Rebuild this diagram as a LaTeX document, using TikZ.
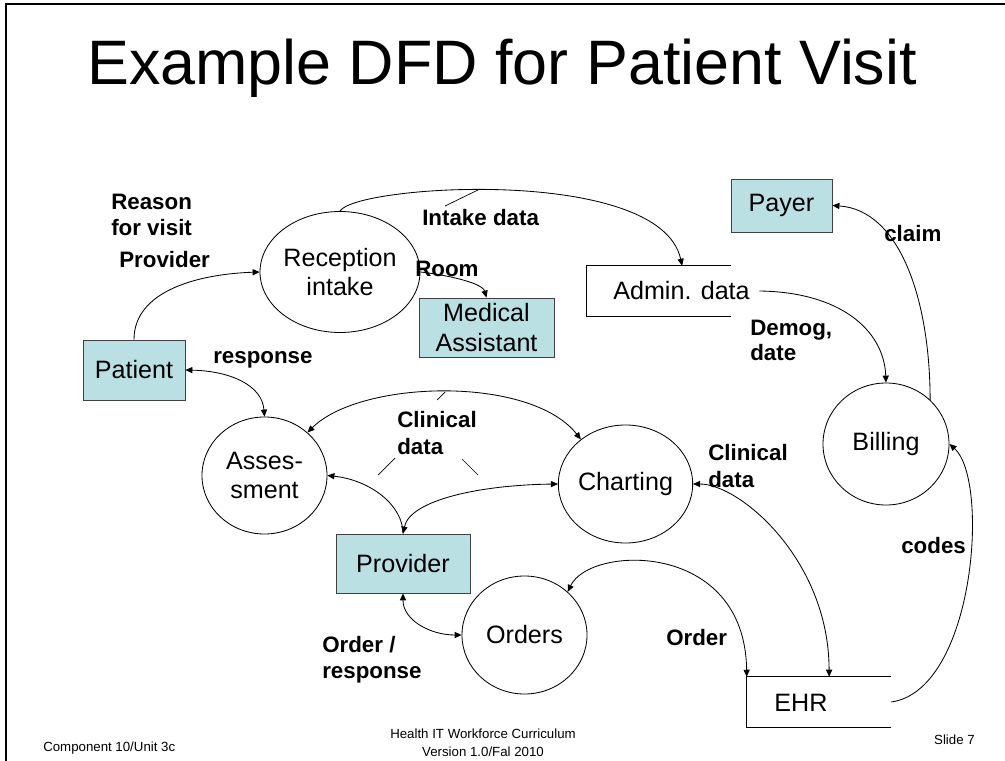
\documentclass[tikz,border=0pt]{standalone}
\usepackage{fontspec}
\setmainfont{Liberation Sans}
\usetikzlibrary{arrows.meta,fit,calc,shapes.geometric}
\newcommand\pxu{0.7164pt}
\definecolor{boxfill}{RGB}{187,224,227}
\begin{document}
\begin{tikzpicture}[x=\pxu,y=-\pxu,
  ent/.style={draw=black!75, fill=boxfill, line width=0.6pt, inner sep=0pt,
    font=\fontsize{18}{21}\selectfont, align=center},
  proc/.style={ellipse, draw, line width=0.6pt, inner sep=0pt,
    font=\fontsize{18}{21}\selectfont, align=center},
  lbl/.style={font=\bfseries\fontsize{16}{19}\selectfont, align=left, anchor=west, inner sep=0pt},
  store/.style={draw=none, inner sep=0pt},
  storeline/.style={line width=0.6pt},
  tip/.tip={Triangle[length=5pt,width=4.4pt]},
  flow/.style={line width=0.6pt, -tip},
  both/.style={line width=0.6pt, tip-tip},
  callout/.style={line width=0.5pt},
  foot/.style={font=\fontsize{9.5}{12}\selectfont, inner sep=0pt}]
\useasboundingbox (0,0) rectangle (1005,761);
% slide frame
\draw[line width=0.8pt] (6,761) -- (6,4) -- (1005,4);
% title
\node[font=\fontsize{45}{50}\selectfont] (title) at (502,68) {Example DFD for Patient Visit};
% entities and processes
\node[ent, minimum width=102*\pxu, minimum height=60*\pxu] (patient) at (134,370) {Patient};
\node[proc, minimum width=125*\pxu, minimum height=121*\pxu] (reception) at (340,272) {Reception\\intake};
\node[ent, minimum width=135*\pxu, minimum height=59*\pxu] (ma) at (486.5,327.5) {Medical\\Assistant};
\node[ent, minimum width=101*\pxu, minimum height=53*\pxu] (payer) at (781.5,205.5) {Payer};
\node[proc, minimum width=126*\pxu, minimum height=122*\pxu] (billing) at (886,444) {Billing};
\node[proc, minimum width=125*\pxu, minimum height=117*\pxu] (assess) at (264.5,475.5) {Asses-\\sment};
\node[proc, minimum width=125*\pxu, minimum height=118*\pxu] (charting) at (625.5,484) {Charting};
\node[ent, minimum width=134*\pxu, minimum height=59*\pxu] (provider) at (403,563.5) {Provider};
\node[proc, minimum width=125*\pxu, minimum height=118*\pxu] (orders) at (524.5,635) {Orders};
% data stores
\node[store, fit={(587,266) (731,316)}] (admin) {};
\draw[storeline] (admin.north east) -- (admin.north west) -- (admin.south west) -- (admin.south east);
\node[font=\fontsize{18}{21}\selectfont, inner sep=1pt] (admintxt) at (681.5,291) {Admin. data};
\node[store, fit={(747,677) (891,727)}] (ehr) {};
\draw[storeline] (ehr.north east) -- (ehr.north west) -- (ehr.south west) -- (ehr.south east);
\node[font=\fontsize{18}{21}\selectfont, inner sep=1pt] (ehrtxt) at (801,703) {EHR};
% flows
\draw[flow] (patient.north) .. controls (134,290) and (200,274) .. (reception.west);
\draw[flow] (reception.east) .. controls (440,274) and (482,282) .. (ma.north);
\draw[both] (patient.east) .. controls (230,371) and (262,385) .. (assess.north);
\draw[flow] (reception.north) .. controls (355,185) and (660,165) .. ($(admin.north west)!0.66!(admin.north east)$);
\draw[flow] ($(admintxt.east)+(8,0)$) .. controls (840,292) and (884,330) .. (billing.north);
\draw[flow] (billing.45) .. controls (930,300) and (900,210) .. (payer.east);
\draw[flow] (ehr.east) .. controls (975,690) and (990,480) .. (billing.east);
\draw[both] (assess.45) .. controls (360,380) and (530,375) .. (charting.135);
\draw[flow] (provider.north) .. controls (403,505) and (370,480) .. (assess.east);
\draw[both] (provider.north) .. controls (410,500) and (480,485) .. (charting.west);
\draw[both] (provider.south) .. controls (403,620) and (430,635) .. (orders.west);
\draw[both] (orders.45) .. controls (590,545) and (745,540) .. (ehr.north west);
\draw[both] (charting.east) .. controls (740,484) and (829,560) .. ($(ehr.north west)!0.57!(ehr.north east)$);
% callout lines
\draw[callout] (445,206) -- (478,190);
\draw[callout] (437,400) -- (445,392);
\draw[callout] (378,475) -- (395,458);
\draw[callout] (462,459) -- (478,475);
% labels
\node[lbl, font=\bfseries\fontsize{16}{18.5}\selectfont] (lreason) at (111,215) {Reason\\for visit};
\node[lbl] (lprov) at (119,260) {Provider};
\node[lbl] (lintake) at (422,218) {Intake data};
\node[lbl] (lroom) at (415,269) {Room};
\node[lbl] (lresp) at (213,360) {response};
\node[lbl, font=\bfseries\fontsize{16}{20}\selectfont] (lclin1) at (397,433) {Clinical\\data};
\node[lbl, font=\bfseries\fontsize{16}{18.5}\selectfont] (lorderresp) at (322,660) {Order /\\response};
\node[lbl] (lorder) at (666,638) {Order};
\node[lbl, font=\bfseries\fontsize{16}{19.3}\selectfont] (lclin2) at (708,466) {Clinical\\data};
\node[lbl] (lcodes) at (901,546) {codes};
\node[lbl] (lclaim) at (884,234) {claim};
\node[lbl, font=\bfseries\fontsize{16}{18}\selectfont] (ldemog) at (750,340) {Demog,\\date};
% footer
\node[foot, anchor=west] (fcomp) at (43,748) {Component 10/Unit 3c};
\node[foot, align=center, font=\fontsize{9.5}{13}\selectfont] (fmid) at (483,743) {Health IT Workforce Curriculum\\Version 1.0/Fal 2010};
\node[foot, anchor=east] (fslide) at (975,740) {Slide 7};
\end{tikzpicture}
\end{document}
